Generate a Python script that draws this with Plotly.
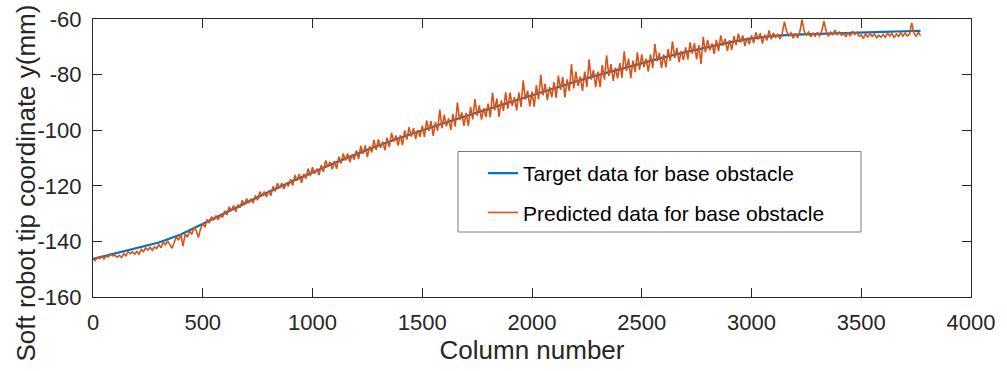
import plotly.graph_objects as go

# ---- data ----
target_cols = list(range(0, 3701, 100)) + [3770]
target_y = [-146.3, -144.4, -142.5, -140.4, -137.5, -133.6, -129.7, -125.9, -122.2, -118.6,
            -115.1, -111.8, -108.6, -105.5, -102.7, -100.0, -97.4, -94.9, -92.4, -89.9,
            -87.4, -84.9, -82.5, -80.2, -78.0, -75.9, -73.8, -71.9, -70.1, -68.4,
            -67.0, -66.1, -65.6, -65.3, -65.0, -64.8, -64.6, -64.4, -64.3]

pred_cols = list(range(0, 3761, 10)) + [3770]
pred_y = [
    -146.3, -146.9, -145.7, -146.2, -145.4, -146.3, -145.2, -145.6, -144.5, -145.2,
    -145.0, -145.7, -145.0, -145.8, -144.4, -145.2, -143.7, -144.4, -143.7, -144.6,
    -143.6, -144.6, -142.9, -143.7, -142.3, -143.1, -142.1, -143.2, -142.0, -142.6,
    -141.2, -142.3, -140.1, -141.2, -139.8, -141.4, -142.5, -140.3, -138.3, -139.6,
    -137.5, -141.7, -137.3, -138.5, -136.2, -137.5, -134.9, -136.0, -138.6, -135.5,
    -133.5, -134.9, -132.1, -133.4, -131.1, -132.4, -130.7, -132.3, -130.5, -131.4,
    -129.0, -130.5, -127.6, -129.0, -127.1, -129.3, -126.8, -127.9, -125.2, -127.0,
    -124.6, -126.2, -124.7, -126.2, -123.5, -125.2, -122.1, -123.6, -122.1, -124.0,
    -121.7, -123.6, -120.2, -122.0, -119.1, -120.9, -119.0, -121.1, -119.0, -120.2,
    -117.6, -119.9, -116.1, -118.2, -115.8, -118.9, -115.7, -117.4, -113.8, -116.5,
    -113.3, -115.7, -113.8, -116.1, -112.5, -115.0, -110.9, -113.2, -111.4, -114.1,
    -111.1, -113.9, -109.5, -112.0, -108.4, -110.9, -108.4, -111.5, -108.8, -110.6,
    -107.3, -110.4, -105.6, -108.5, -105.5, -109.7, -105.7, -108.0, -103.5, -107.1,
    -103.3, -106.3, -104.1, -107.2, -102.7, -106.1, -101.0, -104.1, -101.9, -105.5,
    -101.8, -105.4, -100.1, -103.4, -98.9, -102.3, -99.3, -103.2, -99.9, -102.4,
    -98.4, -102.4, -96.5, -100.2, -96.7, -102.0, -97.1, -100.2, -92.6, -99.3,
    -94.5, -98.6, -95.8, -99.9, -94.2, -98.7, -90.1, -96.4, -93.6, -98.4,
    -93.8, -98.5, -91.7, -96.1, -88.8, -94.8, -91.1, -96.2, -92.1, -95.3,
    -90.4, -95.4, -86.5, -92.9, -88.6, -95.2, -89.3, -93.1, -86.4, -92.2,
    -86.5, -91.3, -88.1, -92.9, -86.4, -91.6, -82.1, -89.0, -85.8, -91.4,
    -86.1, -91.6, -83.8, -88.9, -80.1, -87.5, -83.3, -89.2, -84.5, -88.2,
    -82.7, -88.3, -80.4, -85.5, -80.8, -88.2, -81.7, -85.9, -76.2, -85.0,
    -78.9, -84.1, -80.7, -85.9, -78.9, -84.5, -74.6, -81.8, -78.4, -84.5,
    -78.9, -84.5, -76.6, -81.8, -73.1, -80.5, -76.2, -82.3, -77.5, -81.4,
    -75.9, -81.2, -71.6, -78.7, -74.2, -81.3, -75.0, -79.1, -72.0, -78.3,
    -72.7, -77.3, -74.3, -78.9, -72.7, -77.7, -69.0, -75.2, -72.2, -77.6,
    -72.7, -77.4, -70.8, -75.1, -68.0, -74.0, -70.4, -75.5, -71.5, -74.8,
    -70.2, -74.5, -68.4, -72.4, -68.7, -74.5, -69.4, -76.2, -66.5, -72.0,
    -67.5, -71.2, -68.8, -72.5, -67.5, -71.5, -65.9, -69.6, -67.1, -71.5,
    -67.6, -71.1, -66.2, -69.4, -65.3, -68.5, -65.9, -69.7, -66.7, -69.1,
    -65.9, -68.7, -64.8, -67.4, -65.1, -68.8, -65.6, -67.7, -64.1, -67.3,
    -65.0, -66.6, -65.6, -67.2, -65.1, -61.0, -64.4, -66.0, -65.0, -66.9,
    -65.2, -66.8, -64.7, -60.2, -64.4, -65.8, -64.7, -66.4, -65.1, -66.2,
    -64.8, -66.2, -64.3, -60.8, -64.4, -66.3, -64.7, -65.8, -64.0, -65.6,
    -64.7, -65.9, -65.2, -66.3, -64.8, -66.1, -64.4, -65.6, -64.8, -66.2,
    -65.8, -67.0, -65.4, -66.5, -65.2, -66.3, -65.4, -66.7, -65.8, -66.6,
    -65.5, -66.6, -65.1, -66.1, -65.2, -66.7, -65.4, -66.3, -64.8, -66.2,
    -65.0, -66.1, -65.4, -61.4, -65.1, -66.3, -64.7,
    -66.0,
]

x_ticks = [0, 500, 1000, 1500, 2000, 2500, 3000, 3500, 4000]
y_ticks = [-160, -140, -120, -100, -80, -60]
y_tick_labels = ["-160", "-140", "-120", "-100", "-80", "-60"]

names = ["Target data for base obstacle", "Predicted data for base obstacle"]
x_title = "Column number"
y_title = "Soft robot tip coordinate y(mm)"

FONT = "Arial, Liberation Sans, Helvetica, sans-serif"
AX = "#262626"

fig = go.Figure()
fig.add_trace(go.Scatter(x=target_cols, y=target_y, mode="lines", name=names[0],
                         legendgroup="a", line=dict(color="#0072BD", width=2.2)))
fig.add_trace(go.Scatter(x=pred_cols, y=pred_y, mode="lines", name=names[1],
                         legendgroup="b", line=dict(color="#D95319", width=1.6)))

axis_common = dict(showline=True, linecolor=AX, linewidth=1, mirror="allticks",
                   ticks="inside", ticklen=9, tickwidth=1, tickcolor=AX,
                   showgrid=False, zeroline=False,
                   tickfont=dict(family=FONT, size=22, color=AX))

fig.update_xaxes(range=[0, 4000], tickvals=x_ticks, ticklabelstandoff=6,
                 title=dict(text=x_title, font=dict(family=FONT, size=26, color=AX), standoff=5),
                 **axis_common)
fig.update_yaxes(range=[-160, -60], tickvals=y_ticks, ticktext=y_tick_labels,
                 ticklabelstandoff=6, **axis_common)

# y-axis title (placed like the reference, slightly below the axis centre)
fig.add_annotation(text=y_title, textangle=-90, xref="paper", yref="paper",
                   x=(25 - 93) / 878, y=(297 - 183.5) / 278, xanchor="center", yanchor="middle",
                   showarrow=False, font=dict(family=FONT, size=26, color=AX))

# legend box
fig.add_shape(type="rect", xref="paper", yref="paper",
              x0=(458 - 93) / 878, x1=(861 - 93) / 878,
              y0=(297 - 232) / 278, y1=(297 - 151.5) / 278,
              line=dict(color="#7a7a7a", width=1), fillcolor="white", layer="below")

fig.update_layout(
    width=1007, height=371,
    margin=dict(l=93, r=36, t=19, b=74, autoexpand=False),
    paper_bgcolor="white", plot_bgcolor="white",
    showlegend=True,
    legend=dict(x=(483 - 93) / 878, xanchor="left", y=(297 - 153) / 278, yanchor="top",
                bgcolor="rgba(0,0,0,0)", borderwidth=0,
                font=dict(family=FONT, size=21, color="black"),
                traceorder="grouped", tracegroupgap=9),
)

fig.write_html("out.html", config={"displayModeBar": False},
               post_script="document.body.style.margin='0';document.body.style.padding='0';")
